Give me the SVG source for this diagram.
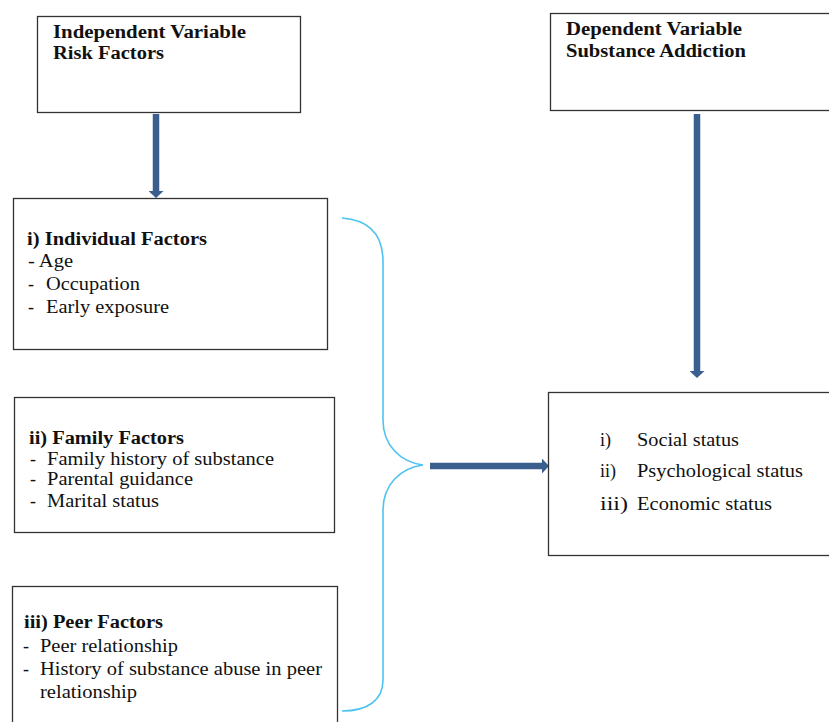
<svg xmlns="http://www.w3.org/2000/svg" width="829" height="722" viewBox="0 0 829 722">
<style>
.box{fill:#fff;stroke:#333;stroke-width:1.3}
text{font-family:'Liberation Serif','Times New Roman','DejaVu Serif',serif;font-size:18px;fill:#111}
.b{font-weight:bold}
.arr{stroke:#3a5f8f;stroke-width:6.5;fill:none}
.brace{stroke:#4ec3f2;stroke-width:1.6;fill:none}
</style>
<defs>
<marker id="ah" viewBox="0 0 7 15" refX="0" refY="7.5" markerWidth="7" markerHeight="15" orient="auto" markerUnits="userSpaceOnUse">
<path d="M0,0 L7,7.5 L0,15 Z" fill="#3a5f8f"/>
</marker>
</defs>
<rect width="829" height="722" fill="#fff"/>
<g id="connectors">
<line class="arr" x1="156" y1="114" x2="156" y2="191" marker-end="url(#ah)"/>
<line class="arr" x1="697" y1="114" x2="697" y2="371" marker-end="url(#ah)"/>
<line class="arr" x1="430" y1="466" x2="542" y2="466" marker-end="url(#ah)"/>
<path class="brace" d="M342,218 C370,220 383,235 383,262 L383,420 C383,445 400,462 423,465 C400,468 383,485 383,510 L383,680 C383,700 368,711 342,711"/>
</g>
<g id="independent">
<rect class="box" x="37.5" y="16.5" width="263" height="96"/>
<text class="b" x="53" y="38" textLength="193" lengthAdjust="spacingAndGlyphs">Independent Variable</text>
<text class="b" x="53" y="59" textLength="111" lengthAdjust="spacingAndGlyphs">Risk Factors</text>
</g>
<g id="dependent">
<rect class="box" x="550.5" y="13.5" width="280" height="97"/>
<text class="b" x="566" y="35" textLength="176" lengthAdjust="spacingAndGlyphs">Dependent Variable</text>
<text class="b" x="566" y="57" textLength="180" lengthAdjust="spacingAndGlyphs">Substance Addiction</text>
</g>
<g id="individual">
<rect class="box" x="13.5" y="198.5" width="314" height="151"/>
<text class="b" x="27" y="245" textLength="180" lengthAdjust="spacingAndGlyphs">i) Individual Factors</text>
<text x="28" y="267" textLength="45" lengthAdjust="spacingAndGlyphs">- Age</text>
<text x="28" y="290">-</text><text x="46" y="290" textLength="94" lengthAdjust="spacingAndGlyphs">Occupation</text>
<text x="28" y="313">-</text><text x="46" y="313" textLength="123" lengthAdjust="spacingAndGlyphs">Early exposure</text>
</g>
<g id="family">
<rect class="box" x="14.5" y="397.5" width="320" height="135"/>
<text class="b" x="29" y="444" textLength="155" lengthAdjust="spacingAndGlyphs">ii) Family Factors</text>
<text x="30" y="465">-</text><text x="47" y="465" textLength="227" lengthAdjust="spacingAndGlyphs">Family history of substance</text>
<text x="30" y="485">-</text><text x="47" y="485" textLength="146" lengthAdjust="spacingAndGlyphs">Parental guidance</text>
<text x="30" y="507">-</text><text x="47" y="507" textLength="112" lengthAdjust="spacingAndGlyphs">Marital status</text>
</g>
<g id="peer">
<rect class="box" x="12.5" y="586.5" width="325" height="140"/>
<text class="b" x="24" y="628" textLength="139" lengthAdjust="spacingAndGlyphs">iii) Peer Factors</text>
<text x="23" y="652">-</text><text x="40" y="652" textLength="138" lengthAdjust="spacingAndGlyphs">Peer relationship</text>
<text x="23" y="675">-</text><text x="40" y="675" textLength="282" lengthAdjust="spacingAndGlyphs">History of substance abuse in peer</text>
<text x="40" y="698" textLength="97" lengthAdjust="spacingAndGlyphs">relationship</text>
</g>
<g id="outcome">
<rect class="box" x="548.5" y="392.5" width="285" height="163"/>
<text x="600" y="446">i)</text><text x="637" y="446" textLength="102" lengthAdjust="spacingAndGlyphs">Social status</text>
<text x="600" y="477">ii)</text><text x="637" y="477" textLength="166" lengthAdjust="spacingAndGlyphs">Psychological status</text>
<text x="600" y="510" font-size="20" textLength="28" lengthAdjust="spacingAndGlyphs">iii)</text><text x="637" y="510" textLength="135" lengthAdjust="spacingAndGlyphs">Economic status</text>
</g>
</svg>
